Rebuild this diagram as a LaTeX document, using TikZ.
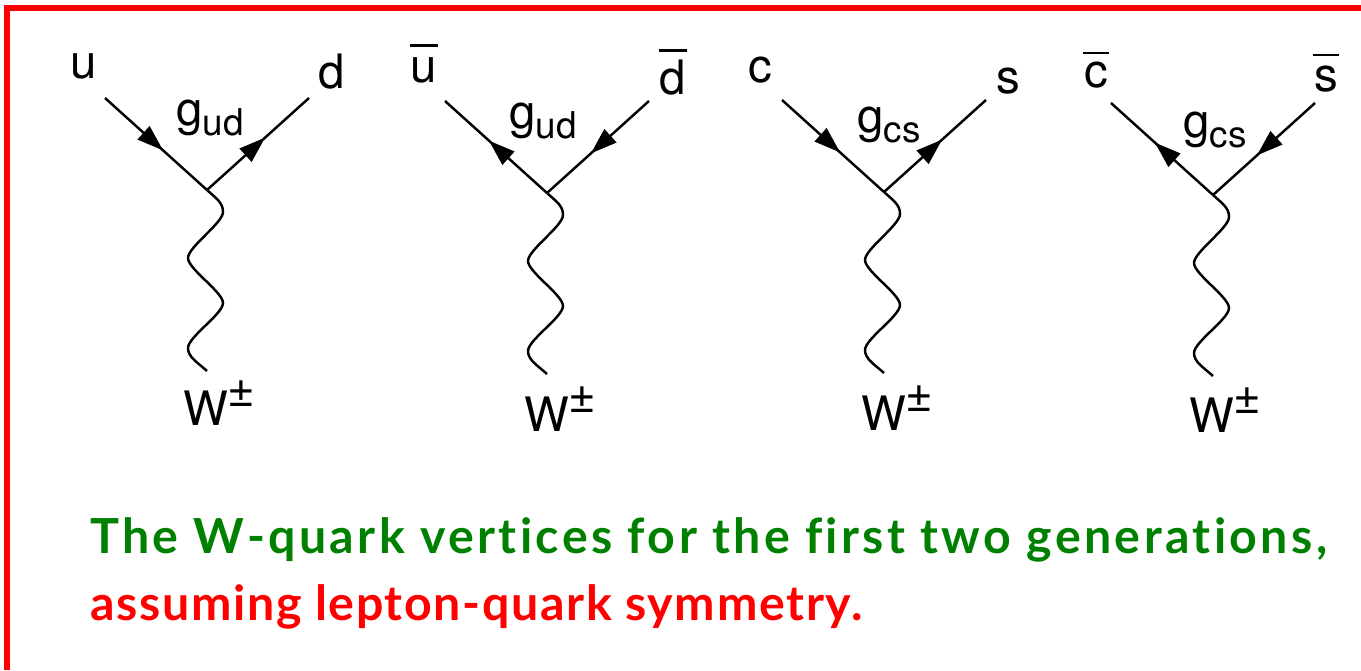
\documentclass[tikz,border=0pt]{standalone}
\usepackage{fontspec}
\setmainfont{TeX Gyre Heros}
\newfontfamily\captionfont[Ligatures=NoCommon]{Lato Bold}
\usepackage{tikz}
\usetikzlibrary{arrows.meta, decorations.markings}
\definecolor{cframe}{HTML}{FF0000}
\definecolor{cgreen}{HTML}{008000}
% bar over a quark letter, second argument is the gap
\newcommand{\qbar}[2]{\vbox{\hrule height 1.2pt \kern #2 \hbox{\kern 0.7pt #1\kern 0.7pt}}}
% coupling with its lowered flavour letters
\newcommand{\coupling}[1]{g\raisebox{-5.7pt}{\fontsize{21pt}{21pt}\selectfont #1}}
\newcommand{\wboson}{W\kern -0.5pt\raisebox{10.8pt}{\fontsize{27pt}{27pt}\selectfont ±}}

\begin{document}
\begin{tikzpicture}[
  x=0.02cm, y=-0.02cm,
  quark/.style={
    line width=1.4pt, postaction={decorate},
    decoration={markings, mark=at position 0.57 with {\arrow{Triangle[length=15pt,width=10pt]}}}
  },
  boson/.style={line width=1.4pt},
  flavour/.style={anchor=base, inner sep=0pt, font=\fontsize{27pt}{27pt}\selectfont},
  vlabel/.style={anchor=base west, inner sep=0pt, font=\fontsize{27pt}{27pt}\selectfont},
  caption/.style={anchor=base west, inner sep=0pt, font=\captionfont\fontsize{27.5pt}{27.5pt}\selectfont}
]
\useasboundingbox (0,0) rectangle (1361,670);

% ============================================================
% Frame: only the left and top edges show
% ============================================================
\draw[cframe, line width=3.4pt] (7,670) -- (7,8) -- (1361,8);

% ============================================================
% Vertices: quark lines in and out, W line below
% ============================================================
\foreach \vname/\vx/\vy in {ud/207/190, cs/884/192} {
  \coordinate (\vname v) at (\vx,\vy);
  \coordinate (\vname in) at (\vx-102,\vy-92);
  \coordinate (\vname out) at (\vx+102,\vy-92);
  \draw[quark] (\vname in) -- (\vname v);
  \draw[quark] (\vname v) -- (\vname out);
}
% Antiquarks run the other way
\foreach \vname/\vx/\vy in {udbar/547/193, csbar/1213/195} {
  \coordinate (\vname v) at (\vx,\vy);
  \coordinate (\vname in) at (\vx-102,\vy-92);
  \coordinate (\vname out) at (\vx+102,\vy-92);
  \draw[quark] (\vname v) -- (\vname in);
  \draw[quark] (\vname out) -- (\vname v);
}
% W line
\foreach \vname in {ud, udbar, cs, csbar} {
  \draw[boson] (\vname v)
    .. controls +(10,9) and +(0,-9) .. ++(16,22)
    .. controls +(0,11) and +(0,-11) .. ++(-35,46)
    .. controls +(0,11) and +(0,-11) .. ++(35,45)
    .. controls +(0,11) and +(0,-11) .. ++(-35,45)
    .. controls +(0,9) and +(-10,-9) .. ++(19,23);
}

% ============================================================
% Quark and coupling labels
% ============================================================
\node[flavour] (lu) at (84,78) {u};
\node[flavour] (ld) at (332,88) {d};
\node[vlabel] (lgud) at (176,125) {\coupling{ud}};
\node[vlabel] (lwud) at (183,425) {\wboson};

\node[flavour] (lubar) at (424,82) {\qbar{u}{6pt}};
\node[flavour] (ldbar) at (673,94) {\qbar{d}{4.5pt}};
\node[vlabel] (lgudbar) at (509,128) {\coupling{ud}};
\node[vlabel] (lwudbar) at (524,431) {\wboson};

\node[flavour] (lc) at (760,82) {c};
\node[flavour] (ls) at (1008,93) {s};
\node[vlabel] (lgcs) at (857,132) {\coupling{cs}};
\node[vlabel] (lwcs) at (861,430) {\wboson};

\node[flavour] (lcbar) at (1096,87) {\qbar{c}{4pt}};
\node[flavour] (lsbar) at (1326,91) {\qbar{s}{5.5pt}};
\node[vlabel] (lgcsbar) at (1183,137) {\coupling{cs}};
\node[vlabel] (lwcsbar) at (1189,432) {\wboson};

% ============================================================
% Caption
% ============================================================
\node[caption, cgreen] (captop) at (90,553)
  {\addfontfeature{LetterSpace=7.0}The W-quark vertices for the first two generations,};
\node[caption, cframe] (capbot) at (90,620)
  {\addfontfeature{LetterSpace=3.4}assuming lepton-quark symmetry.};

\end{tikzpicture}
\end{document}
